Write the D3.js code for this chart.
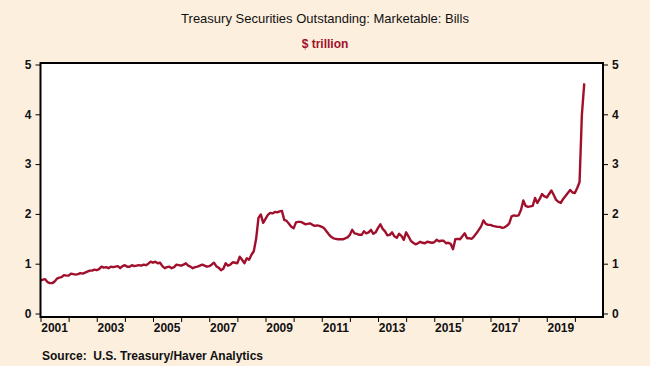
<!DOCTYPE html>
<html>
<head>
<meta charset="utf-8">
<script src="https://cdn.jsdelivr.net/npm/d3@7"></script>
<style>
  body { margin: 0; background: #fcefde; }
  svg { display: block; font-family: "Liberation Sans", Arial, sans-serif; }
</style>
</head>
<body>
<svg id="chart" width="650" height="366"></svg>
<script>
// monthly values, $ trillion, Jan 2001 .. May 2020
const startYear = 2001;
const bills2001_2005 = [
  0.66, 0.68, 0.69, 0.63, 0.61, 0.61, 0.64, 0.70, 0.72, 0.73, 0.77, 0.76,
  0.76, 0.80, 0.79, 0.78, 0.79, 0.81, 0.80, 0.82, 0.84, 0.86, 0.86, 0.88,
  0.87, 0.89, 0.94, 0.92, 0.93, 0.91, 0.94, 0.93, 0.94, 0.95, 0.91, 0.95,
  0.97, 0.94, 0.94, 0.97, 0.95, 0.96, 0.97, 0.96, 0.98, 0.97, 1.00, 1.04,
  1.02, 1.04, 1.01, 1.02, 0.95, 0.91, 0.93, 0.94, 0.91, 0.93, 0.98, 0.97
];
const bills2006_2010 = [
  0.96, 0.98, 1.01, 0.96, 0.94, 0.91, 0.93, 0.94, 0.96, 0.98, 0.96, 0.94,
  0.95, 0.98, 1.02, 0.95, 0.92, 0.87, 0.90, 1.01, 0.96, 0.98, 1.03, 1.02,
  1.01, 1.14, 1.08, 1.01, 1.11, 1.08, 1.18, 1.25, 1.50, 1.92, 1.99, 1.82,
  1.90, 1.98, 2.02, 2.01, 2.04, 2.03, 2.05, 2.06, 1.88, 1.86, 1.80, 1.74,
  1.71, 1.83, 1.84, 1.84, 1.82, 1.79, 1.80, 1.81, 1.78, 1.76, 1.77, 1.76
];
const bills2011_2015 = [
  1.74, 1.71, 1.65, 1.59, 1.54, 1.51, 1.50, 1.49, 1.49, 1.49, 1.51, 1.53,
  1.58, 1.68, 1.61, 1.60, 1.58, 1.58, 1.65, 1.61, 1.63, 1.68, 1.60, 1.63,
  1.72, 1.79, 1.70, 1.65, 1.57, 1.58, 1.63, 1.55, 1.52, 1.60, 1.56, 1.48,
  1.63, 1.55, 1.46, 1.42, 1.39, 1.41, 1.44, 1.42, 1.41, 1.44, 1.43, 1.42,
  1.43, 1.48, 1.45, 1.46, 1.46, 1.41, 1.42, 1.40, 1.29, 1.49, 1.50, 1.49
];
const bills2016_2020 = [
  1.55, 1.61, 1.51, 1.51, 1.50, 1.55, 1.61, 1.68, 1.75, 1.87, 1.80, 1.78,
  1.78, 1.76, 1.75, 1.74, 1.74, 1.72, 1.73, 1.76, 1.81, 1.95, 1.97, 1.96,
  1.97, 2.08, 2.27, 2.16, 2.14, 2.15, 2.16, 2.32, 2.22, 2.30, 2.40, 2.35,
  2.33, 2.40, 2.47, 2.38, 2.28, 2.24, 2.22, 2.30, 2.36, 2.42, 2.48, 2.43,
  2.42, 2.52, 2.64, 4.00, 4.62
];
const yTicks = [0, 1, 2, 3, 4, 5];
const yearTicks = d3.range(2001, 2021);
const yearLabels = ["2001", "2003", "2005", "2007", "2009", "2011", "2013", "2015", "2017", "2019"];

const bills = [...bills2001_2005, ...bills2006_2010, ...bills2011_2015, ...bills2016_2020];
const series = bills.map((v, i) => ({ t: startYear + i / 12, v: v }));

const svg = d3.select("#chart");
const plotL = 40.5, plotR = 603, plotT = 63, plotB = 317;

const x = d3.scaleLinear().domain([2001, 2021]).range([plotL, plotR]);
const y = d3.scaleLinear().domain([0, 5]).range([313.5, 64.5]);

svg.append("rect")
  .attr("x", plotL).attr("y", plotT)
  .attr("width", plotR - plotL).attr("height", plotB - plotT)
  .attr("fill", "#ffffff");

svg.append("text")
  .attr("x", 325).attr("y", 23)
  .attr("text-anchor", "middle")
  .attr("font-size", 13)
  .attr("fill", "#111")
  .text("Treasury Securities Outstanding: Marketable: Bills");

svg.append("text")
  .attr("x", 325).attr("y", 48)
  .attr("text-anchor", "middle")
  .attr("font-size", 12)
  .attr("font-weight", "bold")
  .attr("fill", "#a0102c")
  .text("$ trillion");

// axes
const yLeft = svg.append("g")
  .attr("transform", `translate(${plotL},0)`)
  .call(d3.axisLeft(y).tickValues(yTicks).tickSize(5).tickPadding(4).tickFormat(d3.format("d")));
const yRight = svg.append("g")
  .attr("transform", `translate(${plotR},0)`)
  .call(d3.axisRight(y).tickValues(yTicks).tickSize(5).tickPadding(4).tickFormat(d3.format("d")));
const xAxis = svg.append("g")
  .attr("transform", `translate(0,${plotB})`)
  .call(d3.axisBottom(x).tickValues(yearTicks).tickSize(5).tickFormat(""));

[yLeft, yRight, xAxis].forEach(g => {
  g.select(".domain").remove();
  g.selectAll("line").attr("stroke", "#000");
  g.selectAll("text")
    .attr("font-size", 12)
    .attr("font-weight", "bold")
    .attr("fill", "#111")
    .attr("font-family", "Liberation Sans, Arial, sans-serif");
});

svg.append("g")
  .selectAll("text")
  .data(yearLabels)
  .enter()
  .append("text")
  .attr("x", d => x(+d + 0.5))
  .attr("y", 332)
  .attr("text-anchor", "middle")
  .attr("font-size", 12)
  .attr("font-weight", "bold")
  .attr("fill", "#111")
  .text(d => d);

const line = d3.line()
  .x(d => x(d.t))
  .y(d => y(d.v));

svg.append("path")
  .datum(series)
  .attr("d", line)
  .attr("fill", "none")
  .attr("stroke", "#a0102c")
  .attr("stroke-width", 2.4)
  .attr("stroke-linejoin", "round");

svg.append("rect")
  .attr("x", plotL).attr("y", plotT)
  .attr("width", plotR - plotL).attr("height", plotB - plotT)
  .attr("fill", "none")
  .attr("stroke", "#000")
  .attr("stroke-width", 2);

svg.append("text")
  .attr("x", 42).attr("y", 360)
  .attr("font-size", 12)
  .attr("font-weight", "bold")
  .attr("fill", "#111")
  .attr("xml:space", "preserve")
  .text("Source:  U.S. Treasury/Haver Analytics");
</script>
</body>
</html>
